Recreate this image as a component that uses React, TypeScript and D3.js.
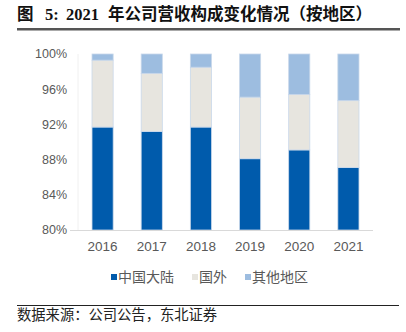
import React from "react";
import * as d3 from "d3";

const years = ["2016", "2017", "2018", "2019", "2020", "2021"];
const mainland = [91.7, 91.2, 91.7, 88.1, 89.1, 87.1];
const overseas = [7.6, 6.6, 6.8, 7.0, 6.3, 7.6];
const others = [0.7, 2.2, 1.5, 4.9, 4.6, 5.3];
const yTicks = [80, 84, 88, 92, 96, 100];
const seriesNames = ["中国大陆", "国外", "其他地区"];
const colors = ["#005bac", "#e7e5df", "#9dbde0"];

export default function App() {
  const W = 406, H = 332;
  const left = 78, right = 373, top = 54, bottom = 230;
  const x = d3.scaleBand().domain(years).range([left, right]).paddingInner(0.57).paddingOuter(0.285);
  const y = d3.scaleLinear().domain([80, 100]).range([bottom, top]);
  const rows = years.map((yr, i) => ({ year: yr, a: mainland[i], b: overseas[i], c: others[i] }));
  const stack = d3.stack<any>().keys(["a", "b", "c"])(rows);
  const font = "Arial, 'Liberation Sans', 'Noto Sans CJK SC', sans-serif";
  const titleFont = "'Liberation Serif', 'Noto Sans CJK SC', serif";
  const legendX = [111, 192, 245];
  return (
    <svg width={W} height={H} style={{ position: "absolute", left: 0, top: 0, background: "#fff" }}>
      <text y={19.5} fontFamily={titleFont} fontWeight="bold" fontSize={16.5} fill="#111">
        <tspan x={17}>图</tspan>
        <tspan x={45}>5:</tspan>
        <tspan x={66}>2021</tspan>
        <tspan x={108}>年公司营收构成变化情况（按地区）</tspan>
      </text>
      <line x1={17} x2={400} y1={29} y2={29} stroke="#555" strokeWidth={2} />
      <line x1={17} x2={400} y1={30.5} y2={30.5} stroke="#aaa" strokeWidth={1} />
      <line x1={left} x2={left} y1={top} y2={bottom} stroke="#f0f0f0" strokeWidth={1} />
      {yTicks.map((t) => (
        <text key={t} x={67} y={y(t)} dy="0.35em" textAnchor="end" fontFamily={font} fontSize={12.5} fill="#595959">
          {t}%
        </text>
      ))}
      {stack.map((s, si) =>
        s.map((d, i) => {
          const y0 = Math.max(d[0], 80);
          return (
            <rect
              key={si + "-" + i}
              x={x(years[i])!}
              width={x.bandwidth()}
              y={y(d[1])}
              height={y(y0) - y(d[1])}
              fill={colors[si]}
              stroke="#c9d8ea"
              strokeWidth={0.8}
            />
          );
        })
      )}
      <line x1={left - 8} x2={right} y1={bottom + 0.5} y2={bottom + 0.5} stroke="#d9d9d9" strokeWidth={1} />
      {years.map((yr) => (
        <text key={yr} x={x(yr)! + x.bandwidth() / 2} y={246} dy="0.35em" textAnchor="middle" fontFamily={font} fontSize={13.5} fill="#595959">
          {yr}
        </text>
      ))}
      {seriesNames.map((n, i) => (
        <g key={n}>
          <rect x={legendX[i]} y={274} width={6} height={6} fill={colors[i]} />
          <text x={legendX[i] + 7} y={277} dy="0.35em" fontFamily={font} fontSize={14} fill="#595959">
            {n}
          </text>
        </g>
      ))}
      <line x1={17} x2={399} y1={305.5} y2={305.5} stroke="#222" strokeWidth={1} />
      <text x={17} y={319.5} fontFamily="'Noto Sans CJK SC', serif" fontSize={14.3} fill="#222">
        数据来源：公司公告，东北证券
      </text>
    </svg>
  );
}
